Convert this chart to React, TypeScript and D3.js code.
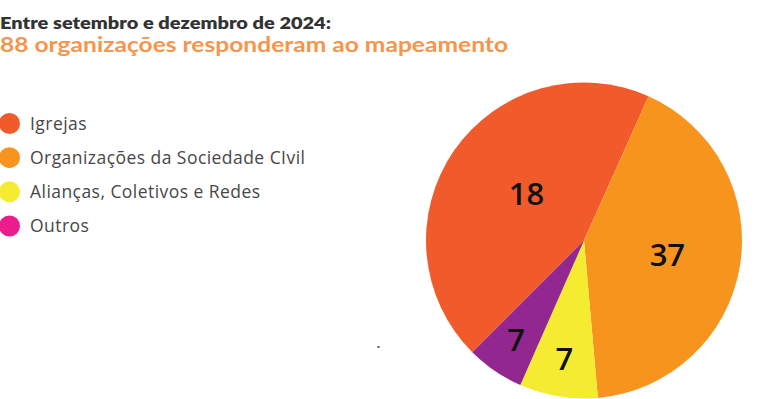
import React from "react";
import * as d3 from "d3";

const titleLine1 = "Entre setembro e dezembro de 2024:";
const titleLine2 = "88 organizações responderam ao mapeamento";
const categories = ["Igrejas", "Organizações da Sociedade CIvil", "Alianças, Coletivos e Redes", "Outros"];
const counts = [18, 37, 7, 7];
// angular share of each slice as drawn in the reference (percent of the circle)
const shares = [44.2, 41.9, 8.0, 5.9];
const sliceColors = ["#F15A2B", "#F7941E", "#F5EC31", "#92278F"];
const legendColors = ["#F15A2B", "#F7941E", "#F5EC31", "#EC1C8C"];

const W = 768;
const H = 399;

export default function App() {
  const cx = 584;
  const cy = 240.5;
  const R = 158;
  const start = (-135 * Math.PI) / 180;
  const pie = d3
    .pie<number>()
    .sort(null)
    .value((d) => d)
    .startAngle(start)
    .endAngle(start + 2 * Math.PI);
  const arcs = pie(shares);
  const arc = d3.arc<d3.PieArcDatum<number>>().innerRadius(0).outerRadius(R);
  const legendY = d3.scalePoint<number>().domain(d3.range(categories.length)).range([123.5, 226]);

  return (
    <svg width={W} height={H} style={{ position: "absolute", left: 0, top: 0 }}>
      <text x={0} y={29} fontFamily="Lato, 'Open Sans', sans-serif" fontWeight={800} fontSize={17.5} fill="#333333" textLength={331} lengthAdjust="spacingAndGlyphs">
        {titleLine1}
      </text>
      <text x={0} y={52} fontFamily="Lato, 'Open Sans', sans-serif" fontWeight={700} fontSize={21.5} fill="#F7954A" textLength={508} lengthAdjust="spacingAndGlyphs">
        {titleLine2}
      </text>
      {categories.map((c, i) => (
        <g key={c}>
          <circle cx={9.5} cy={legendY(i)!} r={10.5} fill={legendColors[i]} />
          <text x={30} y={legendY(i)! + 6.3} fontFamily="'Open Sans', sans-serif" fontSize={17.5} letterSpacing={0.45} fill="#474747">
            {c}
          </text>
        </g>
      ))}
      <g transform={`translate(${cx},${cy})`}>
        {arcs.map((a, i) => (
          <path key={i} d={arc(a) || ""} fill={sliceColors[i]} />
        ))}
        {arcs.map((a, i) => {
          const big = a.endAngle - a.startAngle > 1;
          const lr = big ? (i === 0 ? 0.47 : 0.535) * R : 0.76 * R;
          const m = (a.startAngle + a.endAngle) / 2 + (i === 0 ? 0.08 : 0);
          const x = Math.sin(m) * lr;
          const y = -Math.cos(m) * lr;
          return (
            <text key={i} x={x} y={y} dy="0.36em" textAnchor="middle" fontFamily="'Open Sans', sans-serif" fontWeight={600} fontSize={31} fill="#111111">
              {counts[i]}
            </text>
          );
        })}
      </g>
      <rect x={377.5} y={346} width={2} height={2} fill="#555555" />
    </svg>
  );
}
